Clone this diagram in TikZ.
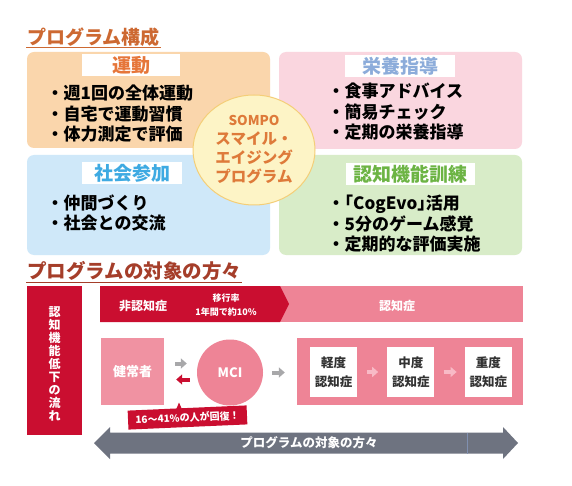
\documentclass[tikz,border=0pt]{standalone}
\usepackage{fontspec}
\setmainfont{Noto Sans CJK JP}
\usetikzlibrary{arrows.meta,positioning,shapes.geometric}
\definecolor{ttlorange}{RGB}{205,105,50}
\definecolor{ttlred}{RGB}{165,62,42}
\definecolor{peach}{RGB}{250,214,172}
\definecolor{rose}{RGB}{250,214,223}
\definecolor{sky}{RGB}{207,232,249}
\definecolor{leaf}{RGB}{216,236,200}
\definecolor{undoc}{RGB}{230,118,58}
\definecolor{eiyoc}{RGB}{140,172,218}
\definecolor{shakaic}{RGB}{62,170,226}
\definecolor{ninchic}{RGB}{108,180,68}
\definecolor{cream}{RGB}{253,244,198}
\definecolor{creamd}{RGB}{244,206,120}
\definecolor{sompoc}{RGB}{222,122,58}
\definecolor{crim}{RGB}{202,14,48}
\definecolor{pinkd}{RGB}{238,132,150}
\definecolor{pinkl}{RGB}{240,146,162}
\definecolor{pinka}{RGB}{248,186,198}
\definecolor{greya}{RGB}{168,168,170}
\definecolor{ink}{RGB}{50,50,50}
\definecolor{slate}{RGB}{110,115,128}
\definecolor{slatel}{RGB}{128,144,176}
\tikzset{
  grp/.style={rounded corners=7pt,inner sep=0pt,minimum width=243pt},
  hd/.style={fill=white,inner sep=0pt,minimum width=98pt,minimum height=22pt,
             font=\bfseries\fontsize{19}{19}\selectfont},
  itm/.style={anchor=west,align=left,inner sep=0pt,
              font=\bfseries\fontsize{17}{20.5}\selectfont},
  ttl/.style={anchor=south west,inner sep=1pt,font=\bfseries\fontsize{19}{19}\selectfont},
  wlbl/.style={text=white,align=center,font=\bfseries\fontsize{12}{15}\selectfont},
  stage/.style={fill=white,minimum width=47pt,minimum height=50pt,inner sep=0pt,
                text=ink,align=center,font=\bfseries\fontsize{12.5}{19}\selectfont},
  sarr/.style={line width=4pt,-{Triangle[length=6pt 0 0,width=10pt 0 0]}},
}

\begin{document}
\begin{tikzpicture}[x=1pt,y=-1pt]
\fill[white] (0,0) rectangle (572,486);
\useasboundingbox (0,0) rectangle (572,486);

% program components
\node[ttl,text=ttlorange] (ttl1) at (26,47.5) {プログラム構成};
\draw[ttlorange,line width=0.9pt] (ttl1.south west) -- (ttl1.south east);

\node[grp,fill=peach,minimum height=96pt] (undo) at (148.5,100) {};
\node[grp,fill=rose,minimum height=97pt] (eiyo) at (400.5,100.5) {};
\node[grp,fill=sky,minimum height=100pt] (shakai) at (148.5,205) {};
\node[grp,fill=leaf,minimum height=100pt] (ninchi) at (400.5,205) {};

\node[hd,text=undoc] (undo-hd) at (131,65) {運動};
\node[hd,text=eiyoc,minimum width=110pt] (eiyo-hd) at (400,66) {栄養指導};
\node[hd,text=shakaic,minimum width=100pt] (shakai-hd) at (132,173) {社会参加};
\node[hd,text=ninchic,minimum width=129pt] (ninchi-hd) at (410.5,174) {認知機能訓練};

\node[itm] (undo-it) at (46.5,114) {・週1回の全体運動\\・自宅で運動習慣\\・体力測定で評価};
\node[itm] (eiyo-it) at (327.5,112) {・食事アドバイス\\・簡易チェック\\・定期の栄養指導};
\node[itm] (shakai-it) at (46.5,213) {・仲間づくり\\・社会との交流};
\node[itm] (ninchi-it) at (327.5,224) {・｢CogEvo｣活用\\・5分のゲーム感覚\\・定期的な評価実施};

\node[ellipse,fill=cream,draw=creamd,line width=1pt,minimum width=122pt,
      minimum height=110pt,inner sep=0pt,text=sompoc,align=center,
      font=\bfseries\fontsize{15.5}{19}\selectfont] (sompo) at (254,150)
      {{\fontsize{13.5}{19}\selectfont SOMPO}\\スマイル・\\エイジング\\プログラム};

% target people
\node[ttl,text=ttlred,font=\bfseries\fontsize{19.5}{19.5}\selectfont] (ttl2) at (26,282) {プログラムの対象の方々};
\draw[ttlred,line width=0.9pt] (ttl2.south west) -- (ttl2.south east);

\node[fill=crim,minimum width=55pt,minimum height=149pt,inner sep=0pt] (flow) at (54.5,360.5) {};
\node[wlbl,font=\bfseries\fontsize{12}{13}\selectfont] (flow-txt) at (54.5,364) {認\\知\\機\\能\\低\\下\\の\\流\\れ};

\node[fill=pinkd,minimum width=243pt,minimum height=36pt,inner sep=0pt] (dbar) at (401.5,304) {};
\fill[crim] (100,286) -- (280,286) -- (289,304) -- (280,322) -- (100,322) -- cycle;
\node[wlbl] (nondem) at (143,306) {非認知症};
\node[wlbl,font=\bfseries\fontsize{9}{14}\selectfont] (rate) at (226,305) {移行率\\1年間で約10\%};
\node[wlbl] (dem) at (397,306) {認知症};

\node[fill=pinkl,minimum width=63pt,minimum height=67pt,inner sep=0pt,wlbl,
      font=\bfseries\fontsize{13}{13}\selectfont] (healthy) at (132.5,371.5) {健常者};
\node[circle,fill=pinkd,minimum size=66pt,inner sep=0pt,wlbl,
      font=\bfseries\fontsize{13}{13}\selectfont] (mci) at (230,372.5) {MCI};
\node[fill=pinkd,minimum width=226pt,minimum height=67pt,inner sep=0pt] (demgrp) at (410,371.5) {};
\node[stage] (mild) at (333.5,372) {軽度\\認知症};
\node[stage,right=30pt of mild] (moderate) {中度\\認知症};
\node[stage,right=30pt of moderate] (severe) {重度\\認知症};

\draw[sarr,greya,shorten <=11pt,shorten >=10pt] ([yshift=8pt]healthy.east) -- ([yshift=8pt]healthy.east -| mci.west);
\draw[sarr,crim,shorten <=7pt,shorten >=12pt] ([yshift=-8pt]healthy.east -| mci.west) -- ([yshift=-8pt]healthy.east);
\draw[sarr,greya,shorten <=9pt,shorten >=12pt] (mci.east) -- (mci.east -| demgrp.west);
\draw[sarr,pinka,shorten <=10pt,shorten >=9pt] (mild) -- (moderate);
\draw[sarr,pinka,shorten <=9pt,shorten >=8pt] (moderate) -- (severe);

\node[fill=crim,text=white,rotate=2.5,minimum width=119pt,minimum height=19pt,inner sep=0pt,
      font=\bfseries\fontsize{10}{10}\selectfont] (recover) at (187.5,417.5) {16〜41\%の人が回復！};
\fill[crim] (175.5,411) -- (179,402.5) -- (182.5,410.5) -- cycle;

\fill[slate] (94,443) -- (110,427) -- (110,432.5) -- (503,432.5) -- (503,427) -- (518,443)
  -- (503,459) -- (503,453.5) -- (110,453.5) -- (110,459) -- cycle;
\draw[slatel,line width=0.8pt] (467,432.5) -- (467,453.5);
\node[wlbl,font=\bfseries\fontsize{12.5}{12.5}\selectfont] (target) at (309,443) {プログラムの対象の方々};
\end{tikzpicture}
\end{document}
